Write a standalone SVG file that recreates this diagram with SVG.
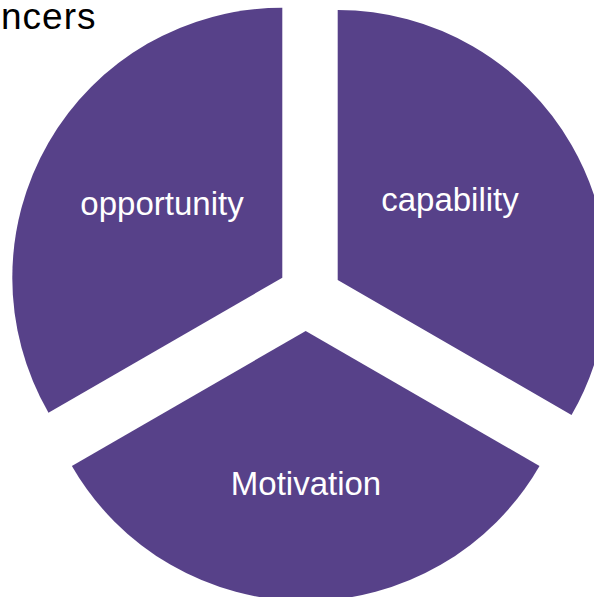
<svg xmlns="http://www.w3.org/2000/svg" width="594" height="597" viewBox="0 0 594 597">
<style>
.sec{fill:#574189;stroke:none}
.lbl{font-family:"Liberation Sans",Arial,sans-serif;font-size:33px;fill:#ffffff;text-anchor:middle}
.title{font-family:"Liberation Sans",Arial,sans-serif;font-size:37px;fill:#000000;letter-spacing:1px}
</style>
<rect width="594" height="597" fill="#ffffff"/>
<text class="title" x="1" y="29">ncers</text>
<g id="opportunity">
<path class="sec" d="M282.3,277.7 L282.3,7.7 A270,270 0 0 0 48.47,412.7 Z"/>
<text class="lbl" x="162" y="215">opportunity</text>
</g>
<g id="capability">
<path class="sec" d="M337.7,280 L337.7,10 A270,270 0 0 1 571.53,415 Z"/>
<text class="lbl" x="450" y="211">capability</text>
</g>
<g id="motivation">
<path class="sec" d="M305.7,331 L539.53,466 A270,270 0 0 1 71.87,466 Z"/>
<text class="lbl" x="306" y="495">Motivation</text>
</g>
<g id="connectors"></g>
</svg>
